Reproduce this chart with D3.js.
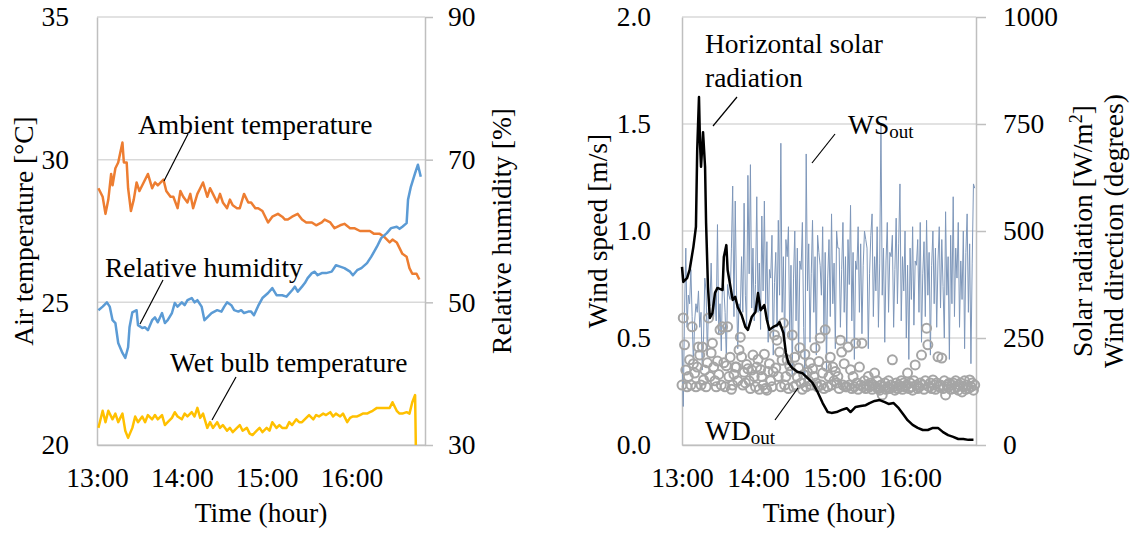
<!DOCTYPE html>
<html>
<head>
<meta charset="utf-8">
<script src="https://cdn.jsdelivr.net/npm/d3@7"></script>
<style>
  body { margin: 0; background: #fff; }
  svg text { font-family: "Liberation Serif", "Times New Roman", serif; fill: #000; }
</style>
</head>
<body>
<svg id="chart" width="1136" height="535"></svg>
<script>
// ---- data (minutes after 13:00) ----
var timeTicks = [0, 60, 120, 180];
var timeLabels = ["13:00", "14:00", "15:00", "16:00"];
var tempTicks = [20, 25, 30, 35];
var rhTicks = [30, 50, 70, 90];
var wsTicks = [0, 0.5, 1.0, 1.5, 2.0];
var solTicks = [0, 250, 500, 750, 1000];

// ambient temperature [°C]
var tAmb = [1,4,6,8,10,11,13,15,18,19,21,22,24,26,28,30,33,36,39,41,43,47,49,52,54,57,59,61,64,66,68,71,73,75,78,80,82,85,87,89,92,94,96,99,101,104,107,109,112,114,117,121,124,128,131,133,135,138,142,145,148,152,155,159,161,165,168,172,175,179,182,186,189,193,196,200,203,207,209,212,214,216,219,221,223,226,228];
var amb = [29.0,28.7,28.1,28.6,29.5,29.1,29.7,29.9,30.6,29.9,29.9,29.0,28.2,28.6,29.2,28.9,29.2,29.5,29.0,29.2,29.1,29.3,28.9,28.7,28.7,28.3,28.9,28.7,28.5,28.8,28.3,28.8,29.0,29.2,28.7,29.0,28.8,28.5,28.8,28.5,28.3,28.6,28.4,28.3,28.3,28.8,28.5,28.5,28.3,28.3,28.2,27.8,28.0,28.1,28.0,27.9,27.9,28.0,28.1,27.9,27.8,27.8,27.7,27.8,27.9,27.8,27.6,27.7,27.75,27.6,27.6,27.5,27.5,27.5,27.4,27.4,27.3,27.1,27.2,27.1,26.9,26.7,26.6,26.2,26.0,26.0,25.8];

// relative humidity [%]
var tRh = [1,4,7,9,11,13,15,18,20,22,23,25,28,29,32,34,36,39,41,43,46,48,50,53,55,57,60,62,64,67,69,71,74,76,78,81,83,85,88,90,92,95,97,100,102,104,107,109,111,114,117,121,124,127,131,134,138,140,142,145,147,149,152,154,156,159,162,166,169,172,175,179,181,184,187,191,194,198,201,205,208,212,214,216,219,220,222,225,227,229];
var rh = [48.9,49.4,50.0,49.4,47.5,47.1,44.3,42.9,42.2,43.7,46.5,48.6,48.9,46.8,46.4,46.5,46.1,47.5,47.9,47.2,48.5,47.1,47.5,48.5,49.9,49.4,50.0,49.6,50.3,50.6,50.0,50.3,49.4,47.5,47.9,48.5,48.7,48.9,48.7,49.4,50.0,49.6,48.9,48.7,48.9,48.5,48.7,48.7,48.2,49.5,50.6,51.3,52.0,51.0,51.0,50.8,51.7,52.2,51.5,52.2,52.7,53.4,54.1,54.3,53.8,54.1,54.1,54.3,55.2,55.0,54.8,54.3,53.8,54.5,54.8,55.5,56.4,57.8,59.0,59.7,60.4,60.6,60.3,60.6,61.1,64.4,66.2,68.1,69.3,67.6];

// wet bulb temperature [°C]
var tWb = [1,4,6,8,11,13,15,18,20,22,25,27,29,32,34,36,39,41,43,46,48,50,53,55,57,60,62,64,67,69,71,73,75,78,80,82,85,87,89,92,94,96,99,101,103,106,108,110,113,115,117,120,122,124,127,129,131,134,136,138,141,143,145,148,150,153,155,157,160,162,165,167,169,172,174,177,179,181,184,186,188,191,193,195,198,200,202,205,207,209,212,214,216,219,221,223,225,225.5];
var wb = [20.6,21.2,20.8,21.2,20.9,21.1,20.8,21.1,20.5,20.25,20.6,21.0,20.8,21.0,20.8,21.05,20.9,21.05,20.9,21.05,20.7,20.8,20.95,21.15,21.0,20.9,21.1,21.0,21.15,21.0,21.3,20.95,21.1,20.6,20.8,20.6,20.8,20.6,20.7,20.5,20.6,20.45,20.6,20.7,20.5,20.6,20.4,20.35,20.5,20.6,20.45,20.6,20.5,20.8,20.6,20.7,20.6,20.6,20.8,20.7,20.9,20.8,20.8,20.95,21.05,20.9,21.05,21.0,21.1,21.05,21.15,21.0,21.1,21.0,21.1,20.8,20.95,21.0,21.0,21.05,21.1,21.1,21.15,21.2,21.3,21.3,21.3,21.3,21.3,21.5,21.2,21.1,21.1,21.15,21.1,21.5,21.75,20.0];

// horizontal solar radiation [W/m2]
var tSol = [0,1,4,6,9,11,12,13.4,14.2,15,15.8,16.6,18.2,19,20.5,22,24,26,28,32,33,35,36,40,42,44,47,50,52,55,58,60,62,65,67,69,72,75,77,80,82,84,87,91,95,99,103,107,111,115,118,122,126,130,133,137,141,145,148,152,156,160,163,167,171,175,178,182,186,190,194,198,202,206,210,214,218,222,226,230];
var sol = [416,381,390,409,463,510,689,813,706,650,689,731,650,519,369,297,308,355,367,362,439,467,409,339,346,322,304,276,269,299,311,355,315,327,292,269,276,280,287,262,215,192,180,171,168,157,145,124,98,77,75,77,82,86,77,89,91,93,98,103,105,100,96,98,86,70,58,47,40,35,35,40,40,30,23,19,14,14,12,12];

// outdoor wind speed [m/s], one value per minute from 13:00
var ws = [0.45,0.18,0.62,0.92,0.55,0.70,0.66,0.82,0.60,0.38,
  0.58,0.66,0.62,0.72,0.55,0.62,0.35,0.50,0.78,0.72,
  0.42,0.68,0.65,0.85,0.62,0.60,0.72,0.58,1.03,0.52,
  0.66,0.44,0.80,0.74,0.62,0.40,0.75,0.70,0.68,0.92,
  1.21,0.60,1.14,0.72,0.45,0.66,0.62,0.88,0.62,1.13,
  0.70,0.55,1.26,0.80,1.31,0.64,0.92,0.58,0.75,1.16,
  0.62,0.85,0.54,1.07,0.72,1.14,0.66,0.95,0.48,0.82,
  0.78,0.98,0.42,0.76,0.90,0.55,1.05,0.70,1.41,0.62,
  0.88,0.45,0.96,0.88,1.02,0.50,0.84,0.32,0.78,1.00,
  0.58,0.92,0.40,0.86,0.82,1.04,0.55,0.30,1.36,0.72,
  0.94,0.48,0.80,1.05,0.62,0.88,0.42,0.98,0.90,0.84,
  0.70,1.02,0.52,0.90,0.35,0.78,0.96,0.60,1.08,0.66,
  0.85,0.45,1.00,0.92,0.92,0.55,0.82,1.04,0.62,0.88,
  0.48,0.96,0.75,1.12,0.58,0.90,0.40,0.86,0.82,1.02,
  0.62,0.94,0.52,0.84,1.00,0.96,0.92,0.45,0.80,0.98,
  1.08,0.60,0.88,0.72,1.02,0.55,0.85,1.50,0.70,0.92,
  0.48,0.86,1.04,0.62,0.90,0.88,0.98,0.55,0.82,1.06,
  0.66,0.94,1.22,0.58,0.88,0.72,1.00,0.50,0.84,0.40,
  0.92,0.68,1.02,0.56,0.86,0.84,0.96,0.62,1.04,0.48,
  0.80,0.95,0.60,1.05,0.70,0.90,0.42,0.84,1.00,0.66,
  0.92,0.55,0.86,1.02,0.64,0.96,0.74,0.50,1.09,0.70,
  0.88,0.40,0.98,0.66,1.16,0.60,0.92,0.78,1.04,0.55,
  0.86,0.68,1.00,0.45,0.90,1.08,0.62,0.94,0.38,0.85,
  1.22,1.20];

// outdoor wind direction [degrees], one value per minute from 13:00
var wd = [140,297,234,175,136,160,199,140,276,190,
  168,136,182,229,210,140,229,152,175,136,
  192,297,160,215,238,182,150,136,196,165,
  269,140,276,192,136,185,276,160,205,130,
  140,165,182,182,150,222,252,206,140,170,
  145,188,178,150,132,175,210,160,136,182,
  200,130,176,160,140,212,132,128,172,190,
  150,136,171,257,180,245,160,217,136,198,
  285,140,160,199,132,185,172,257,136,205,
  140,159,180,227,145,130,165,212,136,170,
  150,192,140,178,160,227,145,136,195,250,
  140,168,132,269,184,136,160,205,140,182,
  150,172,145,160,132,245,217,140,190,136,
  136,229,140,176,132,160,136,238,145,130,
  182,140,238,136,150,132,140,160,136,145,
  130,140,168,136,150,132,128,140,117,136,
  145,130,136,150,132,140,199,136,128,145,
  132,140,136,150,130,145,136,140,168,132,
  145,136,128,150,187,140,132,136,145,210,
  140,130,150,273,234,136,145,132,152,140,
  130,145,206,136,140,203,132,150,117,140,
  136,145,130,140,145,132,150,136,128,140,
  145,124,136,150,130,140,132,152,136,145,
  128,140];

var svg = d3.select("#chart");
var FS = 27.5;
var gridCol = "#d9d9d9", axisCol = "#bfbfbf";

function pairs(t, v) { return t.map(function(d, i) { return [d, v[i]]; }); }

function styleAxis(g) {
  g.selectAll("text").attr("font-size", FS).attr("fill", "#000");
  g.selectAll("path.domain").attr("stroke", axisCol).attr("stroke-width", 1.5);
  g.selectAll(".tick line").attr("stroke", axisCol).attr("stroke-width", 1.5);
  g.attr("font-family", null).attr("font-size", null);
}

function panel(o) {
  var x = d3.scaleLinear().domain([0, 232]).range([o.x0, o.x1]);
  var yL = d3.scaleLinear().domain(o.leftDom).range([o.y1, o.y0]);
  var yR = d3.scaleLinear().domain(o.rightDom).range([o.y1, o.y0]);

  // gridlines
  svg.append("g").selectAll("line").data(o.leftTicks).enter().append("line")
    .attr("x1", o.x0).attr("x2", o.x1)
    .attr("y1", function(d) { return yL(d); }).attr("y2", function(d) { return yL(d); })
    .attr("stroke", gridCol).attr("stroke-width", 1.5);

  svg.append("g").attr("transform", "translate(" + o.x0 + ",0)")
    .call(d3.axisLeft(yL).tickValues(o.leftTicks).tickFormat(o.leftFmt).tickSize(0).tickSizeOuter(0).tickPadding(o.padL))
    .call(styleAxis);

  svg.append("g").attr("transform", "translate(" + o.x1 + ",0)")
    .call(d3.axisRight(yR).tickValues(o.rightTicks).tickFormat(o.rightFmt).tickSize(o.tickR).tickSizeOuter(0).tickPadding(o.padR))
    .call(styleAxis);

  svg.append("g").attr("transform", "translate(0," + o.y1 + ")")
    .call(d3.axisBottom(x).tickValues(timeTicks).tickFormat(function(d, i) { return timeLabels[i]; })
      .tickSize(0).tickSizeOuter(0).tickPadding(22))
    .call(styleAxis);

  svg.append("text").attr("x", (o.x0 + o.x1) / 2).attr("y", 522)
    .attr("text-anchor", "middle").attr("font-size", FS).text("Time (hour)");

  return { x: x, yL: yL, yR: yR };
}

function vtitle(x, y, parts) {
  var t = svg.append("text").attr("transform", "translate(" + x + "," + y + ") rotate(-90)")
    .attr("text-anchor", "middle").attr("font-size", FS);
  parts.forEach(function(p) {
    var s = t.append("tspan").text(p.t);
    if (p.sup) s.attr("font-size", 18).attr("baseline-shift", "super");
  });
}

function label(x, y, main, sub) {
  var t = svg.append("text").attr("x", x).attr("y", y).attr("font-size", FS).text(main);
  if (sub) t.append("tspan").attr("font-size", 19).attr("dy", 4).text(sub);
}
function leader(x1, y1, x2, y2) {
  svg.append("line").attr("x1", x1).attr("y1", y1).attr("x2", x2).attr("y2", y2)
    .attr("stroke", "#000").attr("stroke-width", 1.2);
}

// ---------- left panel ----------
var A = panel({ x0: 97, x1: 425, y0: 17, y1: 445,
  leftDom: [20, 35], rightDom: [30, 90], leftTicks: tempTicks, rightTicks: rhTicks,
  leftFmt: d3.format("d"), rightFmt: d3.format("d"), padL: 28, padR: 15, tickR: 8 });

var line = d3.line().curve(d3.curveLinear);

svg.append("path").datum(pairs(tAmb, amb))
  .attr("d", line.x(function(d) { return A.x(d[0]); }).y(function(d) { return A.yL(d[1]); }))
  .attr("fill", "none").attr("stroke", "#ED7D31").attr("stroke-width", 2.5).attr("stroke-linejoin", "round");
svg.append("path").datum(pairs(tWb, wb))
  .attr("d", line.x(function(d) { return A.x(d[0]); }).y(function(d) { return A.yL(d[1]); }))
  .attr("fill", "none").attr("stroke", "#FFC000").attr("stroke-width", 2.5).attr("stroke-linejoin", "round");
svg.append("path").datum(pairs(tRh, rh))
  .attr("d", line.x(function(d) { return A.x(d[0]); }).y(function(d) { return A.yR(d[1]); }))
  .attr("fill", "none").attr("stroke", "#5B9BD5").attr("stroke-width", 2.5).attr("stroke-linejoin", "round");

vtitle(33, 231, [{ t: "Air temperature [°C]" }]);
vtitle(511, 231, [{ t: "Relative humidity [%]" }]);

label(138, 134, "Ambient temperature");
leader(188, 134, 164, 181);
label(105, 277, "Relative humidity");
leader(163, 280, 140, 324);
label(170, 372, "Wet bulb temperature");
leader(236, 377, 212, 420);

// ---------- right panel ----------
var B = panel({ x0: 682, x1: 976, y0: 17, y1: 445,
  leftDom: [0, 2], rightDom: [0, 1000], leftTicks: wsTicks, rightTicks: solTicks,
  leftFmt: d3.format(".1f"), rightFmt: d3.format("d"), padL: 31, padR: 17, tickR: 10 });

svg.append("path").datum(ws)
  .attr("d", d3.line().x(function(d, i) { return B.x(i); }).y(function(d) { return B.yL(d); }))
  .attr("fill", "none").attr("stroke", "#7E97BA").attr("stroke-width", 1);

svg.append("g").selectAll("circle").data(wd).enter().append("circle")
  .attr("cx", function(d, i) { return B.x(i); })
  .attr("cy", function(d) { return B.yR(d); })
  .attr("r", 4.5).attr("fill", "none").attr("stroke", "#A5A5A5").attr("stroke-width", 2);

svg.append("path").datum(pairs(tSol, sol))
  .attr("d", d3.line().x(function(d) { return B.x(d[0]); }).y(function(d) { return B.yR(d[1]); }))
  .attr("fill", "none").attr("stroke", "#000").attr("stroke-width", 2.5).attr("stroke-linejoin", "round");

vtitle(607, 231, [{ t: "Wind speed [m/s]" }]);
vtitle(1092, 231, [{ t: "Solar radiation [W/m" }, { t: "2", sup: true }, { t: "]" }]);
vtitle(1123, 231, [{ t: "Wind direction (degrees)" }]);

label(705, 53, "Horizontal solar");
label(705, 87, "radiation");
leader(737, 97, 713, 126);
label(848, 134, "WS", "out");
leader(835, 134, 812, 163);
label(705, 440, "WD", "out");
leader(775, 420, 798, 388);
</script>
</body>
</html>
